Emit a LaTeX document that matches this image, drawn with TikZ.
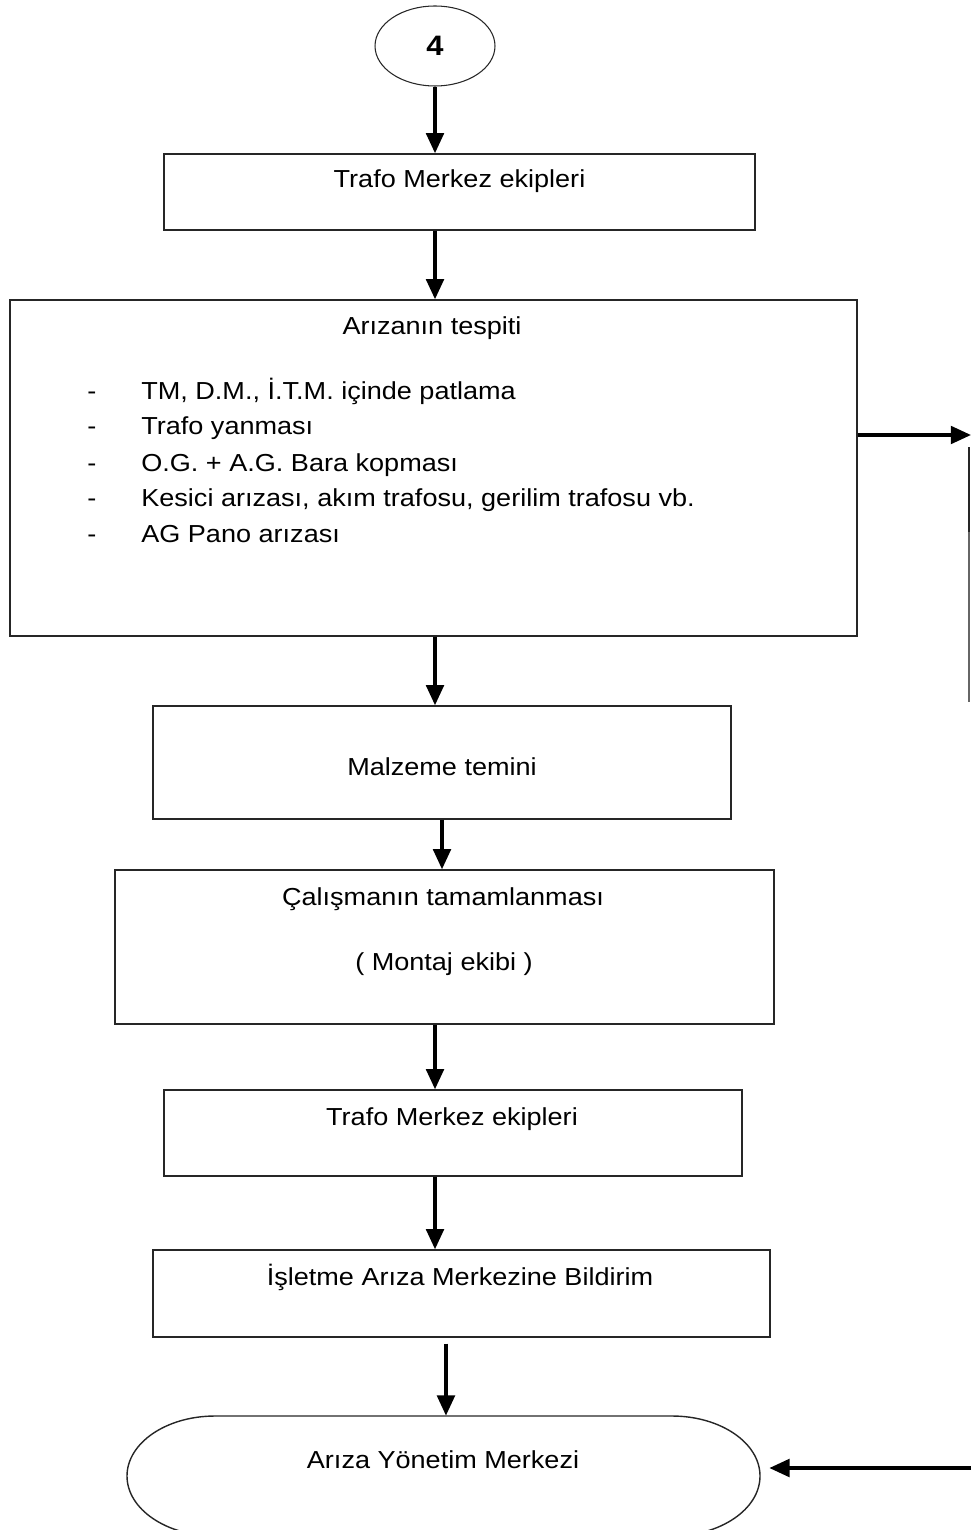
\documentclass[tikz,border=0pt]{standalone}
\usepackage{fontspec}
\setmainfont{Liberation Sans}[FakeStretch=1.1]
\usetikzlibrary{arrows.meta,shapes.geometric,fit}

\begin{document}
\begin{tikzpicture}[x=0.02cm,y=-0.02cm,
  box/.style={draw=black!85, line width=0.8pt, inner sep=0pt},
  txt/.style={font=\fontsize{14}{16}\selectfont, anchor=base, inner sep=0pt},
  item/.style={txt, anchor=base west},
  flow/.style={line width=2pt, -{Triangle[length=11.5pt,width=10pt]}},
]
\useasboundingbox (0,0) rectangle (971,1530);

% start connector
\node[draw=black!85, line width=0.6pt, ellipse, minimum width=2.4cm, minimum height=1.6cm,
      inner sep=0pt, font=\bfseries\fontsize{16}{16}\selectfont] (start) at (435,46) {4};

% process boxes
\node[box, fit={(164,154) (755,230)}] (b1) {};
\node[box, fit={(10,300) (857,636)}] (b2) {};
\node[box, fit={(153,706) (731,819)}] (b3) {};
\node[box, fit={(115,870) (774,1024)}] (b4) {};
\node[box, fit={(164,1090) (742,1176)}] (b5) {};
\node[box, fit={(153,1250) (770,1337)}] (b6) {};

% terminator
\node[inner sep=0pt, fit={(127,1416) (760,1536)}] (term) {};
\draw[box] (215,1416) -- (672,1416)
  .. controls (720.6,1416) and (760,1442.9) .. (760,1476)
  .. controls (760,1509.1) and (720.6,1536) .. (672,1536)
  -- (215,1536)
  .. controls (166.4,1536) and (127,1509.1) .. (127,1476)
  .. controls (127,1442.9) and (166.4,1416) .. (215,1416) -- cycle;

% box texts
\node[txt] (t1) at (459.5,188) {Trafo Merkez ekipleri};
\node[txt] (t2) at (432,335) {Arızanın tespiti};
\foreach \yy/\tx [count=\i] in {399/{TM, D.M., İ.T.M. içinde patlama},
                    435/{Trafo yanması},
                    471/{O.G. + A.G. Bara kopması},
                    506/{Kesici arızası, akım trafosu, gerilim trafosu vb.},
                    542/{AG Pano arızası}}{
  \node[item] (d\i) at (87,\yy) {-};
  \node[item] (l\i) at (141,\yy) {\tx};
}
\node[txt] (t3) at (442,775) {Malzeme temini};
\node[txt] (t4) at (443,905) {Çalışmanın tamamlanması};
\node[txt] (t4b) at (444,970) {( Montaj ekibi )};
\node[txt] (t5) at (452,1125) {Trafo Merkez ekipleri};
\node[txt] (t6) at (460,1285) {İşletme Arıza Merkezine Bildirim};
\node[txt] (t7) at (443,1468) {Arıza Yönetim Merkezi};

% main flow
\draw[flow] (start.south) -- (b1.north -| start);
\draw[flow] (b1.south -| start) -- (b2.north -| start);
\draw[flow] (b2.south -| start) -- (b3.north -| start);
\draw[flow] (b3.south) -- (b3.south |- b4.north);
\draw[flow] (b4.south -| start) -- (b5.north -| start);
\draw[flow] (b5.south -| start) -- (b6.north -| start);
\draw[flow, shorten <=3.4pt] ([xshift=1.4pt]b6.south -| term.north) -- ([xshift=1.4pt]term.north);

% side connectors
\coordinate (rEnd) at (971,435);
\draw[flow] (b2.east |- rEnd) -- (rEnd);
\coordinate (vTop) at (969,447);
\coordinate (vMid) at (969,532);
\coordinate (vBot) at (969,702);
\draw[line width=1.4pt, black!85] (vTop) -- (vMid);
\draw[line width=0.6pt, black!60] (vMid) -- (vBot);
\coordinate (lStart) at (971,1468);
\draw[flow, shorten >=5.1pt] (lStart) -- (lStart -| term.east);
\end{tikzpicture}
\end{document}
